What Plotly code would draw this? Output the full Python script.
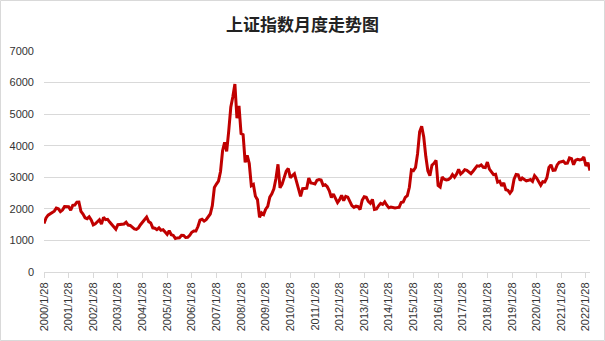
import plotly.graph_objects as go

years = list(range(2000, 2023))

# Monthly closes of the SSE Composite, Jan 2000 - Mar 2022
v2000 = [1535, 1714, 1800, 1836, 1894, 1928, 2023, 2000, 1910, 1961, 2070, 2073]
v2001 = [2065, 1960, 2112, 2119, 2214, 2218, 1920, 1834, 1717, 1689, 1748, 1646]
v2002 = [1491, 1525, 1601, 1654, 1518, 1732, 1657, 1669, 1581, 1507, 1445, 1357]
v2003 = [1500, 1512, 1510, 1521, 1576, 1487, 1476, 1421, 1367, 1348, 1397, 1497]
v2004 = [1590, 1675, 1742, 1595, 1555, 1399, 1386, 1342, 1396, 1320, 1340, 1267]
v2005 = [1191, 1306, 1181, 1159, 1060, 1080, 1083, 1162, 1155, 1092, 1099, 1161]
v2006 = [1258, 1299, 1298, 1440, 1641, 1672, 1612, 1658, 1752, 1837, 2099, 2675]
v2007 = [2786, 2881, 3183, 3841, 4109, 3820, 4471, 5218, 5552, 5954, 4871, 5262]
v2008 = [4383, 4348, 3473, 3693, 3433, 2736, 2775, 2397, 2293, 1729, 1871, 1821]
v2009 = [1991, 2082, 2373, 2477, 2632, 2959, 3412, 2667, 2779, 2996, 3195, 3277]
v2010 = [2989, 3051, 3110, 2870, 2592, 2398, 2638, 2639, 2656, 2978, 2820, 2808]
v2011 = [2790, 2905, 2928, 2911, 2743, 2762, 2701, 2568, 2359, 2468, 2333, 2199]
v2012 = [2292, 2428, 2262, 2397, 2373, 2225, 2103, 2047, 2086, 2069, 1980, 2269]
v2013 = [2385, 2365, 2237, 2178, 2301, 1979, 1994, 2098, 2175, 2141, 2220, 2116]
v2014 = [2033, 2056, 2033, 2026, 2039, 2048, 2202, 2217, 2364, 2420, 2683, 3235]
v2015 = [3210, 3310, 3748, 4442, 4612, 4277, 3664, 3206, 3053, 3383, 3445, 3539]
v2016 = [2738, 2688, 3004, 2938, 2917, 2930, 2979, 3085, 3005, 3100, 3250, 3104]
v2017 = [3159, 3242, 3223, 3155, 3117, 3192, 3273, 3361, 3349, 3393, 3317, 3307]
v2018 = [3481, 3259, 3169, 3082, 3095, 2847, 2876, 2725, 2821, 2603, 2588, 2494]
v2019 = [2585, 2941, 3091, 3078, 2899, 2979, 2933, 2886, 2905, 2929, 2871, 3050]
v2020 = [2977, 2880, 2750, 2860, 2852, 2985, 3310, 3396, 3218, 3225, 3392, 3473]
v2021 = [3483, 3509, 3442, 3447, 3615, 3591, 3397, 3544, 3568, 3547, 3564, 3640]
v2022 = [3361, 3462, 3212]

values = (v2000 + v2001 + v2002 + v2003 + v2004 + v2005 + v2006 + v2007 + v2008
          + v2009 + v2010 + v2011 + v2012 + v2013 + v2014 + v2015 + v2016 + v2017
          + v2018 + v2019 + v2020 + v2021 + v2022)

tick_labels = [f"{y}/1/28" for y in years]
month_index = list(range(len(values)))
tick_positions = [12 * i for i in range(len(years))]

fig = go.Figure()
fig.add_trace(go.Scatter(
    x=month_index, y=values, mode="lines",
    line=dict(color="#C00000", width=3), hoverinfo="y",
))

grid = "#D9D9D9"
fig.update_layout(
    width=605, height=341,
    margin=dict(l=44, r=15, t=51, b=69),
    paper_bgcolor="white", plot_bgcolor="white",
    showlegend=False,
    font=dict(family="Liberation Sans, Arial, sans-serif", size=11, color="#333333"),
    title=dict(
        text="<b>上证指数月度走势图</b>",
        x=0.5, xanchor="center", xref="container",
        y=1 - 25 / 341, yanchor="middle", yref="container",
        font=dict(family="Noto Sans CJK SC", size=17, color="#222222"),
    ),
    xaxis=dict(
        range=[0, len(values) - 1], automargin=False,
        tickmode="array", tickvals=tick_positions, ticktext=tick_labels,
        tickangle=-90, showgrid=False, zeroline=False,
        showline=True, linecolor=grid, linewidth=1,
        ticks="outside", ticklen=5, tickcolor=grid,
    ),
    yaxis=dict(
        range=[0, 7000], dtick=1000, tick0=0, automargin=False,
        showgrid=True, gridcolor=grid, gridwidth=1,
        zeroline=False, showline=False,
        ticks="", ticklabelstandoff=9,
    ),
    shapes=[dict(
        type="rect", xref="paper", yref="paper",
        x0=(0.5 - 44) / 546, x1=(604.5 - 44) / 546,
        y0=(272 - 340.5) / 221, y1=(272 - 0.5) / 221,
        line=dict(color="#D9D9D9", width=1), fillcolor="rgba(0,0,0,0)",
        layer="below",
    )],
)

fig.write_html("out.html")
